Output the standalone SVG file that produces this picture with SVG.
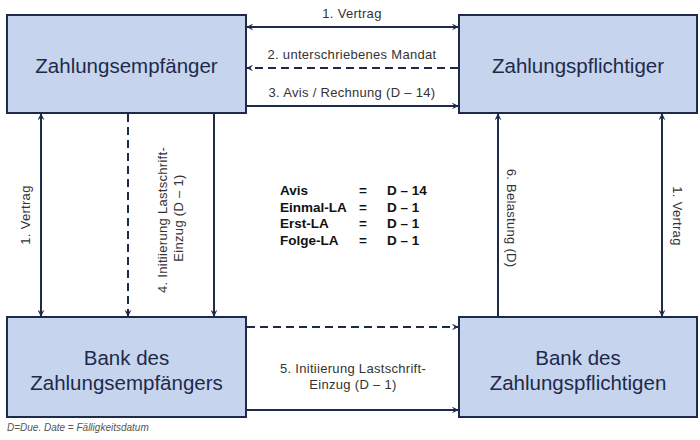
<svg xmlns="http://www.w3.org/2000/svg" width="700" height="440" viewBox="0 0 700 440">
<style>
.box{fill:#c6d4ee;stroke:#1e2a4a;stroke-width:2}
.bt{font-family:"Liberation Sans",Arial,sans-serif;font-size:20.5px;fill:#1e2a4a;text-anchor:middle}
.ln{stroke:#1e2a4a;stroke-width:2;fill:none}
.ds{stroke-dasharray:8,5}
.lb{font-family:"Liberation Sans",Arial,sans-serif;font-size:13px;letter-spacing:0.3px;fill:#333;text-anchor:middle}
.lg{font-family:"Liberation Sans",Arial,sans-serif;font-size:13.5px;font-weight:bold;fill:#111}
.fn{font-family:"Liberation Sans",Arial,sans-serif;font-size:10px;font-style:italic;fill:#555}
</style>
<defs>
<marker id="ah" viewBox="0 0 10 10" refX="9" refY="5" markerWidth="7" markerHeight="7" orient="auto-start-reverse" markerUnits="userSpaceOnUse">
<path d="M0,0 L10,5 L0,10 L4,5 Z" fill="#1e2a4a"/>
</marker>
</defs>
<rect width="700" height="440" fill="#fff"/>
<g id="connectors">
<line class="ln" x1="247" y1="27" x2="458" y2="27" marker-start="url(#ah)" marker-end="url(#ah)"/>
<text class="lb" x="352" y="18">1. Vertrag</text>
<line class="ln ds" x1="458" y1="68" x2="247" y2="68" marker-end="url(#ah)"/>
<text class="lb" x="352" y="59">2. unterschriebenes Mandat</text>
<line class="ln" x1="247" y1="106" x2="458" y2="106" marker-end="url(#ah)"/>
<text class="lb" x="352" y="97">3. Avis / Rechnung (D – 14)</text>

<line class="ln" x1="41" y1="114" x2="41" y2="316" marker-start="url(#ah)" marker-end="url(#ah)"/>
<text class="lb" transform="translate(30,215) rotate(-90)">1. Vertrag</text>
<line class="ln ds" x1="128" y1="114" x2="128" y2="316" marker-end="url(#ah)"/>
<line class="ln" x1="214" y1="114" x2="214" y2="316" marker-end="url(#ah)"/>
<text class="lb" transform="translate(167,220) rotate(-90)">4. Initiierung Lastschrift-</text>
<text class="lb" transform="translate(183,218) rotate(-90)">Einzug (D – 1)</text>

<line class="ln" x1="498" y1="316" x2="498" y2="114" marker-end="url(#ah)"/>
<text class="lb" transform="translate(507,218) rotate(90)">6. Belastung (D)</text>
<line class="ln" x1="662" y1="114" x2="662" y2="316" marker-start="url(#ah)" marker-end="url(#ah)"/>
<text class="lb" transform="translate(673,216) rotate(90)">1. Vertrag</text>

<line class="ln ds" x1="247" y1="327" x2="458" y2="327" marker-end="url(#ah)"/>
<line class="ln" x1="247" y1="410" x2="458" y2="410" marker-end="url(#ah)"/>
<text class="lb" x="353" y="373">5. Initiierung Lastschrift-</text>
<text class="lb" x="353" y="389">Einzug (D – 1)</text>
</g>
<g id="legend">
<text class="lg" x="280" y="195">Avis</text><text class="lg" x="359" y="195">=</text><text class="lg" x="387" y="195">D – 14</text>
<text class="lg" x="280" y="212">Einmal-LA</text><text class="lg" x="359" y="212">=</text><text class="lg" x="387" y="212">D – 1</text>
<text class="lg" x="280" y="228">Erst-LA</text><text class="lg" x="359" y="228">=</text><text class="lg" x="387" y="228">D – 1</text>
<text class="lg" x="280" y="245">Folge-LA</text><text class="lg" x="359" y="245">=</text><text class="lg" x="387" y="245">D – 1</text>
</g>
<g id="zahlungsempfaenger">
<rect class="box" x="7" y="15" width="239" height="98"/>
<text class="bt" x="126.5" y="73">Zahlungsempfänger</text>
</g>
<g id="zahlungspflichtiger">
<rect class="box" x="459" y="15" width="238" height="98"/>
<text class="bt" x="578" y="73">Zahlungspflichtiger</text>
</g>
<g id="bank-empfaenger">
<rect class="box" x="7" y="317" width="239" height="100"/>
<text class="bt" x="126.5" y="365">Bank des</text>
<text class="bt" x="126.5" y="390">Zahlungsempfängers</text>
</g>
<g id="bank-pflichtiger">
<rect class="box" x="459" y="317" width="238" height="100"/>
<text class="bt" x="578" y="365">Bank des</text>
<text class="bt" x="578" y="390">Zahlungspflichtigen</text>
</g>
<text class="fn" x="7" y="431">D=Due. Date = Fälligkeitsdatum</text>
</svg>
